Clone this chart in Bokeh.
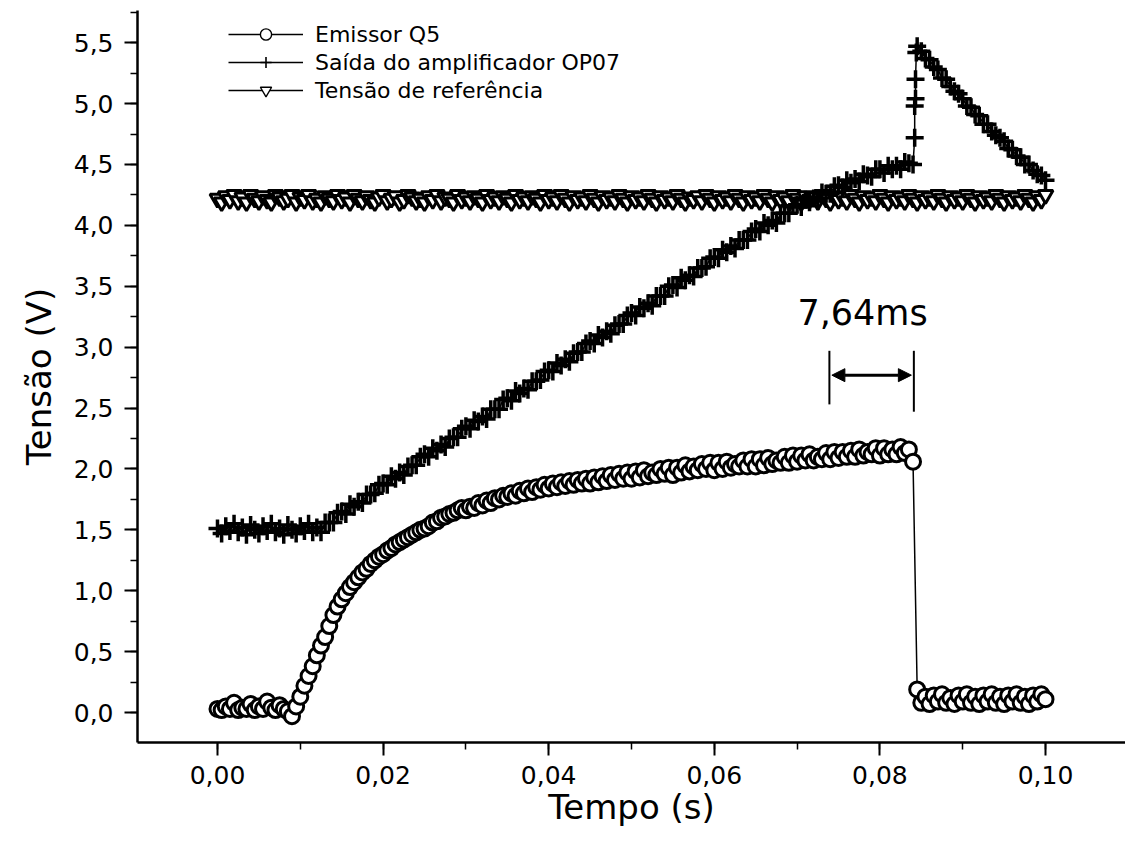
from bokeh.plotting import figure
from bokeh.models import (Range1d, Legend, LegendItem, Label, Arrow, NormalHead,
                          ColumnDataSource, CustomJSTickFormatter, SingleIntervalTicker)
from bokeh.embed import file_html
from bokeh.resources import INLINE

# ---------------- data ----------------
# oscilloscope time base (s), one sample every 0.5 ms
time_s = [round(i * 0.0005, 4) for i in range(201)]

# Emissor Q5 (V)
emissor_v = [
    0.03, 0.02, 0.05, 0.03, 0.08, 0.02, 0.04, 0.03, 0.07, 0.02,
    0.05, 0.03, 0.09, 0.04, 0.02, 0.06, 0.03, 0.01,
    -0.03,
    0.05, 0.13, 0.22, 0.30, 0.38, 0.47, 0.55, 0.62, 0.71, 0.80, 0.87,
    0.93, 0.98, 1.03, 1.07, 1.11, 1.15, 1.18, 1.22, 1.25, 1.28,
    1.30, 1.33, 1.35, 1.38, 1.40, 1.42, 1.44, 1.46, 1.48, 1.50,
    1.51, 1.53, 1.56, 1.57, 1.60, 1.61, 1.63, 1.64, 1.66, 1.68,
    1.66, 1.69, 1.68, 1.72, 1.70, 1.74, 1.72, 1.76, 1.75, 1.78,
    1.77, 1.80, 1.78, 1.82, 1.80, 1.84, 1.81, 1.85, 1.83, 1.87,
    1.84, 1.88, 1.85, 1.89, 1.86, 1.90, 1.87, 1.91, 1.88, 1.92,
    1.88, 1.93, 1.89, 1.94, 1.90, 1.95, 1.91, 1.96, 1.92, 1.97,
    1.92, 1.98, 1.93, 1.99, 1.94, 1.97, 1.95, 2.00, 1.96, 2.01,
    1.95, 2.01, 1.97, 2.03, 1.98, 2.02, 1.99, 2.04, 2.00, 2.05,
    1.99, 2.05, 2.00, 2.06, 2.01, 2.04, 2.02, 2.07, 2.02, 2.08,
    2.02, 2.08, 2.03, 2.09, 2.04, 2.07, 2.05, 2.10, 2.05, 2.11,
    2.06, 2.11, 2.07, 2.12, 2.07, 2.10, 2.08, 2.13, 2.08, 2.14,
    2.09, 2.14, 2.10, 2.15, 2.10, 2.16, 2.11, 2.14, 2.12, 2.17,
    2.11, 2.17, 2.12, 2.16, 2.12, 2.18, 2.13, 2.16,
    2.06,
    0.19,
    0.08, 0.13, 0.07, 0.14, 0.09, 0.15, 0.08, 0.12, 0.07, 0.14,
    0.09, 0.15, 0.08, 0.13, 0.07, 0.14, 0.09, 0.15, 0.08, 0.13,
    0.07, 0.14, 0.09, 0.15, 0.08, 0.13, 0.07, 0.14, 0.09, 0.15,
    0.11,
]

# Saida do amplificador OP07 (V)
op07_v = [
    1.51, 1.47, 1.53, 1.49, 1.55, 1.48, 1.52, 1.46, 1.54, 1.50,
    1.47, 1.53, 1.49, 1.55, 1.48, 1.51, 1.46, 1.54, 1.50, 1.47,
    1.53, 1.49, 1.55, 1.48, 1.52,
    1.48, 1.56, 1.56, 1.56, 1.64,
    1.65, 1.63, 1.71, 1.69, 1.73, 1.72, 1.79, 1.79, 1.80, 1.87,
    1.88, 1.87, 1.94, 1.92, 1.97, 1.95, 2.02, 2.03, 2.03, 2.10,
    2.12, 2.10, 2.17, 2.15, 2.20, 2.18, 2.25, 2.26, 2.26, 2.33,
    2.35, 2.33, 2.40, 2.39, 2.43, 2.41, 2.49, 2.49, 2.49, 2.57,
    2.58, 2.56, 2.64, 2.62, 2.66, 2.65, 2.72, 2.72, 2.73, 2.80,
    2.81, 2.80, 2.87, 2.85, 2.90, 2.88, 2.95, 2.96, 2.96, 3.03,
    3.05, 3.03, 3.10, 3.08, 3.13, 3.11, 3.18, 3.19, 3.19, 3.26,
    3.28, 3.26, 3.33, 3.32, 3.36, 3.34, 3.42, 3.42, 3.42, 3.50,
    3.51, 3.49, 3.57, 3.55, 3.59, 3.58, 3.65, 3.65, 3.66, 3.73,
    3.74, 3.73, 3.80, 3.78, 3.83, 3.81, 3.88, 3.88, 3.88, 3.95,
    3.97, 3.95, 4.02, 4.00, 4.04, 4.02, 4.10, 4.10, 4.10, 4.16,
    4.17, 4.15, 4.21, 4.19, 4.22, 4.20, 4.27, 4.26, 4.26, 4.32,
    4.33, 4.31, 4.37, 4.35, 4.38, 4.36, 4.42, 4.41, 4.40, 4.46,
    4.46, 4.43, 4.49, 4.46, 4.49, 4.46, 4.52, 4.51,
    4.50,
    5.47,
    5.43, 5.37, 5.36, 5.30, 5.28, 5.21, 5.20, 5.14, 5.10, 5.08,
    5.04, 4.98, 4.97, 4.91, 4.90, 4.83, 4.83, 4.77, 4.74, 4.72,
    4.69, 4.63, 4.62, 4.57, 4.56, 4.50, 4.50, 4.45, 4.42, 4.41,
    4.37,
]
# extra samples captured during the fast rise of the OP07 output
op07_jump_t = [0.0842, 0.0842, 0.0843, 0.0843, 0.0844]
op07_jump_v = [4.72, 4.98, 5.04, 5.20, 5.42]

# Tensao de referencia (V)
referencia_v = [
    4.22, 4.19, 4.24, 4.21, 4.25, 4.20, 4.23, 4.19, 4.25, 4.22,
    4.20, 4.24, 4.21, 4.19, 4.25, 4.23, 4.20, 4.22, 4.25, 4.19,
    4.23, 4.21, 4.25, 4.20, 4.22, 4.19, 4.24, 4.22, 4.20, 4.25,
    4.21, 4.23, 4.19, 4.25, 4.22, 4.20, 4.24, 4.21, 4.19, 4.23,
    4.25, 4.20, 4.22, 4.24, 4.19, 4.21, 4.25, 4.23, 4.20, 4.22,
    4.19, 4.24, 4.21, 4.25, 4.20, 4.23, 4.22, 4.19, 4.25, 4.21,
    4.23, 4.20, 4.24, 4.22, 4.19, 4.25, 4.21, 4.23, 4.20, 4.24,
    4.22, 4.19, 4.25, 4.21, 4.23, 4.20, 4.24, 4.22, 4.19, 4.25,
    4.21, 4.23, 4.20, 4.25, 4.22, 4.19, 4.24, 4.21, 4.23, 4.20,
    4.25, 4.22, 4.19, 4.24, 4.21, 4.23, 4.20, 4.25, 4.22, 4.19,
    4.24, 4.21, 4.23, 4.20, 4.25, 4.22, 4.19, 4.24, 4.21, 4.23,
    4.20, 4.25, 4.22, 4.19, 4.23, 4.21, 4.24, 4.20, 4.25, 4.22,
    4.19, 4.24, 4.21, 4.23, 4.20, 4.25, 4.22, 4.19, 4.24, 4.21,
    4.23, 4.20, 4.25, 4.22, 4.19, 4.24, 4.21, 4.23, 4.20, 4.25,
    4.22, 4.19, 4.24, 4.21, 4.23, 4.20, 4.25, 4.22, 4.19, 4.24,
    4.21, 4.23, 4.20, 4.25, 4.22, 4.19, 4.24, 4.21, 4.23, 4.20,
    4.25, 4.22, 4.19, 4.24, 4.21, 4.23, 4.20, 4.25, 4.22, 4.19,
    4.24, 4.21, 4.23, 4.20, 4.25, 4.22, 4.19, 4.24, 4.21, 4.23,
    4.20, 4.25, 4.22, 4.19, 4.24, 4.21, 4.23, 4.20, 4.25, 4.22,
    4.19, 4.24, 4.21, 4.23, 4.20, 4.25, 4.22, 4.19, 4.24, 4.21,
    4.25,
]

series_labels = ["Emissor Q5", "Saída do amplificador OP07", "Tensão de referência"]
x_tick_step = 0.02
y_tick_step = 0.5

# annotation of the 7,64 ms delay
delay_text = "7,64ms"
delay_left_t = 0.0739
delay_right_t = 0.0841
delay_bar_bottom = [2.53, 2.47]
delay_bar_top = 2.97
delay_arrow_v = 2.77
delay_text_t = 0.0779
delay_text_v = 3.28

# ---------------- figure ----------------
FONT = "DejaVu Sans"

p = figure(width=1125, height=848, output_backend="svg", toolbar_location=None,
           x_range=Range1d(-0.00966, 0.10966), y_range=Range1d(-0.246, 5.764),
           min_border_left=137, min_border_right=0, min_border_top=10, min_border_bottom=106,
           x_axis_label="Tempo (s)", y_axis_label="Tensão (V)")
p.outline_line_color = None
p.xgrid.visible = False
p.ygrid.visible = False
p.background_fill_color = "white"
p.border_fill_color = "white"

p.xaxis.ticker = SingleIntervalTicker(interval=x_tick_step, num_minor_ticks=2)
p.yaxis.ticker = SingleIntervalTicker(interval=y_tick_step, num_minor_ticks=2)
p.xaxis.formatter = CustomJSTickFormatter(code="return tick.toFixed(2).replace('.', ',');")
p.yaxis.formatter = CustomJSTickFormatter(code="return tick.toFixed(1).replace('.', ',');")

for ax in (p.xaxis, p.yaxis):
    ax.axis_line_width = 2.5
    ax.axis_line_color = "black"
    ax.major_tick_line_width = 2
    ax.minor_tick_line_width = 1.5
    ax.major_tick_out = 13
    ax.major_tick_in = 0
    ax.minor_tick_out = 7
    ax.minor_tick_in = 0
    ax.major_label_text_font = FONT
    ax.major_label_text_font_size = "25px"
    ax.major_label_text_color = "black"
    ax.axis_label_text_font = FONT
    ax.axis_label_text_font_size = "34px"
    ax.axis_label_text_font_style = "normal"
    ax.axis_label_text_color = "black"

p.xaxis.major_label_standoff = 10
p.yaxis.major_label_standoff = 11
p.xaxis.axis_label_standoff = 0
p.yaxis.axis_label_standoff = 12

# reference voltage (triangles)
ref_src = ColumnDataSource(dict(t=time_s, v=referencia_v))
ref_line = p.line("t", "v", source=ref_src, line_color="black", line_width=1.5)
ref_mk = p.scatter("t", "v", source=ref_src, marker="inverted_triangle", size=15,
                   fill_color="white", line_color="black", line_width=3)

# OP07 output (crosses)
op_t = time_s[:169] + op07_jump_t + time_s[169:]
op_v = op07_v[:169] + op07_jump_v + op07_v[169:]
op_src = ColumnDataSource(dict(t=op_t, v=op_v))
op_line = p.line("t", "v", source=op_src, line_color="black", line_width=1.5)
op_mk = p.scatter("t", "v", source=op_src, marker="cross", size=18,
                  line_color="black", line_width=3.5)

# emitter Q5 (circles)
em_src = ColumnDataSource(dict(t=time_s, v=emissor_v))
em_line = p.line("t", "v", source=em_src, line_color="black", line_width=1.5)
em_mk = p.scatter("t", "v", source=em_src, marker="circle", size=15,
                  fill_color="white", line_color="black", line_width=3)

# legend keys drawn with thin outlines (a single undefined point, nothing plotted)
key_src = ColumnDataSource(dict(t=[float("nan")], v=[float("nan")]))
key_em_line = p.line("t", "v", source=key_src, line_color="black", line_width=1.5)
key_em_mk = p.scatter("t", "v", source=key_src, marker="circle", size=14,
                      fill_color="white", line_color="black", line_width=1.4)
key_op_line = p.line("t", "v", source=key_src, line_color="black", line_width=1.5)
key_op_mk = p.scatter("t", "v", source=key_src, marker="cross", size=16,
                      line_color="black", line_width=1.6)
key_ref_line = p.line("t", "v", source=key_src, line_color="black", line_width=1.5)
key_ref_mk = p.scatter("t", "v", source=key_src, marker="inverted_triangle", size=15,
                       fill_color="white", line_color="black", line_width=1.4)

# delay annotation
bar_src = ColumnDataSource(dict(x0=[delay_left_t, delay_right_t], y0=delay_bar_bottom,
                                x1=[delay_left_t, delay_right_t], y1=[delay_bar_top, delay_bar_top]))
p.segment("x0", "y0", "x1", "y1", source=bar_src, line_color="black", line_width=2)
p.add_layout(Arrow(start=NormalHead(size=13, fill_color="black", line_color="black"),
                   end=NormalHead(size=13, fill_color="black", line_color="black"),
                   x_start=delay_left_t + 0.0003, y_start=delay_arrow_v,
                   x_end=delay_right_t - 0.0003, y_end=delay_arrow_v,
                   line_width=3, line_color="black"))
p.add_layout(Label(x=delay_text_t, y=delay_text_v, text=delay_text, text_align="center",
                   text_baseline="middle", text_font=FONT, text_font_size="35px",
                   text_color="black"))

legend = Legend(items=[
    LegendItem(label=series_labels[0], renderers=[key_em_line, key_em_mk]),
    LegendItem(label=series_labels[1], renderers=[key_op_line, key_op_mk]),
    LegendItem(label=series_labels[2], renderers=[key_ref_line, key_ref_mk]),
], location=(91, 638))
legend.border_line_color = None
legend.background_fill_alpha = 0
legend.glyph_width = 75
legend.glyph_height = 28
legend.label_height = 28
legend.label_standoff = 12
legend.spacing = 0
legend.padding = 0
legend.margin = 0
legend.label_text_font = FONT
legend.label_text_font_size = "22px"
legend.label_text_color = "black"
p.add_layout(legend)

open("out.html", "w").write(file_html(p, INLINE))
